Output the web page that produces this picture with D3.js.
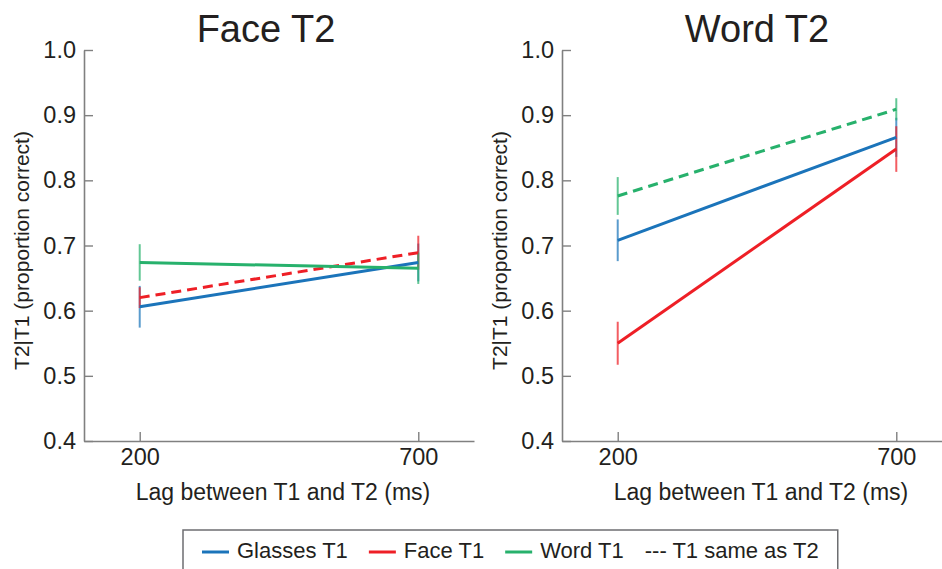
<!DOCTYPE html>
<html>
<head>
<meta charset="utf-8">
<script src="https://cdn.jsdelivr.net/npm/d3@7"></script>
<style>
  html, body { margin: 0; padding: 0; background: #fff; }
  svg { display: block; font-family: "Liberation Sans", Arial, Helvetica, sans-serif; }
</style>
</head>
<body>
<svg id="chart" width="942" height="569"></svg>
<script>
// Lags (ms) at which T2 was presented
const lags = [200, 700];
const xTicks = [200, 700];
const yTicks = [0.4, 0.5, 0.6, 0.7, 0.8, 0.9, 1.0];

// Face T2 panel: mean proportion correct and error half-widths
const faceGlasses = [0.606, 0.674];
const faceGlassesErr = [0.032, 0.029];
const faceFace = [0.620, 0.689];
const faceFaceErr = [0.016, 0.026];
const faceWord = [0.674, 0.665];
const faceWordErr = [0.028, 0.024];

// Word T2 panel
const wordGlasses = [0.708, 0.866];
const wordGlassesErr = [0.032, 0.030];
const wordFace = [0.550, 0.848];
const wordFaceErr = [0.033, 0.035];
const wordWord = [0.776, 0.909];
const wordWordErr = [0.029, 0.017];

const seriesNames = ["Glasses T1", "Face T1", "Word T1"];
const colors = { "Glasses T1": "#1b74ba", "Face T1": "#ee1f26", "Word T1": "#27b16c" };

const panels = [
  {
    title: "Face T2", same: "Face T1",
    x0: 84, x1: 474, titleX: 266,
    series: [
      { name: "Glasses T1", values: faceGlasses, err: faceGlassesErr },
      { name: "Face T1", values: faceFace, err: faceFaceErr },
      { name: "Word T1", values: faceWord, err: faceWordErr }
    ]
  },
  {
    title: "Word T2", same: "Word T1",
    x0: 562, x1: 952, titleX: 757,
    series: [
      { name: "Glasses T1", values: wordGlasses, err: wordGlassesErr },
      { name: "Face T1", values: wordFace, err: wordFaceErr },
      { name: "Word T1", values: wordWord, err: wordWordErr }
    ]
  }
];

const svg = d3.select("#chart");
const axisColor = "#808080";
const textColor = "#231f20";

const y = d3.scaleLinear().domain([0.4, 1.0]).range([441, 50]);

panels.forEach(p => {
  const x = d3.scaleLinear().domain([100, 800]).range([p.x0, p.x1]);
  const g = svg.append("g");

  // axes
  const yAxis = d3.axisLeft(y).tickValues(yTicks).tickFormat(d3.format(".1f"))
    .tickSizeInner(-9).tickSizeOuter(0).tickPadding(8);
  const gy = g.append("g").attr("transform", `translate(${p.x0},0)`).call(yAxis);

  const xAxis = d3.axisBottom(x).tickValues(xTicks).tickFormat(d3.format("d"))
    .tickSizeInner(-9).tickSizeOuter(0).tickPadding(7);
  const gx = g.append("g").attr("transform", `translate(0,${y.range()[0]})`).call(xAxis);

  [gx, gy].forEach(a => {
    a.select(".domain").attr("stroke", axisColor).attr("stroke-width", 1.6);
    a.selectAll(".tick line").attr("stroke", axisColor).attr("stroke-width", 1.4);
    a.selectAll(".tick text").attr("fill", textColor).attr("font-size", 23.5)
      .attr("font-family", "Liberation Sans, Arial, sans-serif");
  });

  // title
  g.append("text").attr("x", p.titleX).attr("y", 42)
    .attr("text-anchor", "middle").attr("font-size", 38).attr("fill", textColor)
    .text(p.title);

  // axis labels
  g.append("text")
    .attr("transform", `translate(${p.x0 - 55},${(y(0.4) + y(1.0)) / 2 + 5}) rotate(-90)`)
    .attr("text-anchor", "middle").attr("font-size", 21).attr("fill", textColor)
    .text("T2|T1 (proportion correct)");

  g.append("text")
    .attr("x", (x(200) + x(700)) / 2 + 4).attr("y", 500)
    .attr("text-anchor", "middle").attr("font-size", 23).attr("fill", textColor)
    .text("Lag between T1 and T2 (ms)");

  // error bars
  p.series.forEach(s => {
    g.append("g").selectAll("line").data(lags).join("line")
      .attr("x1", d => x(d)).attr("x2", d => x(d))
      .attr("y1", (d, i) => y(s.values[i] - s.err[i]))
      .attr("y2", (d, i) => y(s.values[i] + s.err[i]))
      .attr("stroke", colors[s.name]).attr("stroke-width", 2)
      .attr("stroke-opacity", 0.72);
  });

  // mean lines
  const line = d3.line().x(d => x(d[0])).y(d => y(d[1]));
  p.series.forEach(s => {
    g.append("path")
      .datum(lags.map((l, i) => [l, s.values[i]]))
      .attr("d", line)
      .attr("fill", "none")
      .attr("stroke", colors[s.name])
      .attr("stroke-width", 3)
      .attr("stroke-dasharray", s.name === p.same ? "10,6" : null);
  });
});

// legend
const lg = svg.append("g");
const legendTop = 530, legendLeft = 183;
let cx = legendLeft + 19;
const ly = 552, lbase = 557.5;
const items = seriesNames.map(n => ({ label: n, color: colors[n] }));
items.forEach(it => {
  lg.append("line").attr("x1", cx).attr("x2", cx + 27).attr("y1", ly).attr("y2", ly)
    .attr("stroke", it.color).attr("stroke-width", 3);
  cx += 35;
  const t = lg.append("text").attr("x", cx).attr("y", lbase)
    .attr("font-size", 22).attr("fill", textColor).text(it.label);
  cx += t.node().getComputedTextLength() + 21;
});
const last = lg.append("text").attr("x", cx).attr("y", lbase)
  .attr("font-size", 22).attr("fill", textColor).text("--- T1 same as T2");
cx += last.node().getComputedTextLength() + 19;
lg.insert("rect", ":first-child")
  .attr("x", legendLeft).attr("y", legendTop)
  .attr("width", cx - legendLeft).attr("height", 60)
  .attr("fill", "#fff").attr("stroke", "#6d6e71").attr("stroke-width", 1.5);
</script>
</body>
</html>
